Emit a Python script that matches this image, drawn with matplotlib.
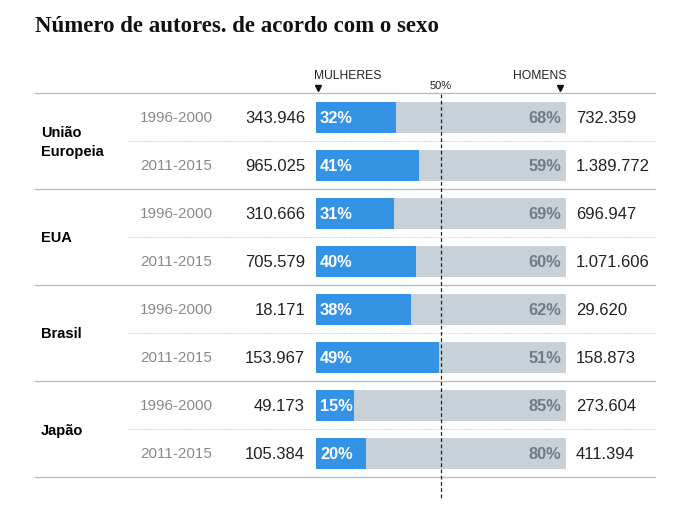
import matplotlib.pyplot as plt
import numpy as np

plt.rcParams['font.family'] = ['Liberation Sans', 'DejaVu Sans']

regions = ['União\nEuropeia', 'EUA', 'Brasil', 'Japão']
periods = ['1996-2000', '2011-2015']
women_pct = [32, 41, 31, 40, 38, 49, 15, 20]
men_pct = [68, 59, 69, 60, 62, 51, 85, 80]
women_n = ['343.946', '965.025', '310.666', '705.579', '18.171', '153.967', '49.173', '105.384']
men_n = ['732.359', '1.389.772', '696.947', '1.071.606', '29.620', '158.873', '273.604', '411.394']

blue = '#3593e6'
grey_bar = '#c9d1d8'
grey_txt = '#6e7b85'
line_c = '#bdbdbd'

W, H = 698, 522
fig = plt.figure(figsize=(W / 100, H / 100), dpi=100)
# bar area: x 316..566 px, rows from 93..477 px
ax = fig.add_axes([316 / W, (H - 477) / H, 250 / W, 384 / H])
ax.set_xlim(0, 100)
ax.set_ylim(7.5, -0.5)
ax.axis('off')


def px(x):
    # pixel x -> data x
    return (x - 316) / 2.5


def py(y):
    # pixel y -> row coordinate
    return (y - 117) / 48


dy = 1.5 / 48  # nudge text down a bit, va='center' sits high
rows = np.arange(len(women_pct))
ax.barh(rows + 0.5 / 48, women_pct, height=0.63, color=blue, linewidth=0)
ax.barh(rows + 0.5 / 48, men_pct, left=women_pct, height=0.63, color=grey_bar, linewidth=0)

for i in rows:
    ax.text(px(320), i + dy, f'{women_pct[i]}%', color='white', weight='bold',
            fontsize=11.8, va='center', ha='left')
    ax.text(px(561), i + dy, f'{men_pct[i]}%', color=grey_txt, weight='bold',
            fontsize=11.8, va='center', ha='right')
    ax.text(px(305), i + dy, women_n[i], color='#222222', fontsize=12,
            va='center', ha='right', clip_on=False)
    ax.text(px(576), i + dy, men_n[i], color='#222222', fontsize=12,
            va='center', ha='left', clip_on=False)
    ax.text(px(140), i + dy, periods[i % 2], color='#8a8a8a', fontsize=11,
            va='center', ha='left', clip_on=False)

for k, reg in enumerate(regions):
    ax.text(px(41), 2 * k + 0.5 + dy, reg, weight='bold', fontsize=10.5,
            va='center', ha='left', clip_on=False, linespacing=1.4)
    ax.plot([px(35), px(655)], [2 * k - 0.5] * 2, color=line_c, lw=1,
            clip_on=False)
    ax.plot([px(128), px(655)], [2 * k + 0.5] * 2, color='#cccccc', lw=0.8,
            ls=(0, (1, 1)), clip_on=False)
ax.plot([px(35), px(655)], [7.5, 7.5], color=line_c, lw=1, clip_on=False)

# 50% line
ax.plot([50, 50], [py(94), py(500)], color='#222222', lw=0.9,
        ls=(0, (3, 2)), clip_on=False)

# headers
ax.text(px(314), py(76), 'MULHERES', fontsize=8.7, color='#222222',
        va='center', ha='left', clip_on=False)
ax.text(px(566), py(76), 'HOMENS', fontsize=8.7, color='#222222',
        va='center', ha='right', clip_on=False)
ax.text(50, py(86), '50%', fontsize=8, color='#222222',
        va='center', ha='center', clip_on=False)
ax.plot([px(318), px(560)], [py(88), py(88)], ls='none', marker='v',
        markersize=4.5, color='#111111', clip_on=False)

fig.text(35 / W, 1 - 26 / H, 'Número de autores. de acordo com o sexo',
         family='Liberation Serif', weight='bold', fontsize=16.5,
         va='center', ha='left', color='#111111')

fig.savefig('out.png', dpi=100)
